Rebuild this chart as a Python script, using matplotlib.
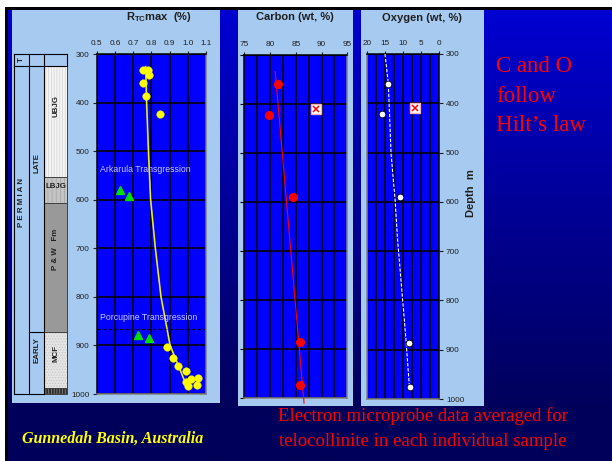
import numpy as np
import matplotlib
matplotlib.use('Agg')
import matplotlib.pyplot as plt
from matplotlib.patches import Rectangle

plt.rcParams['font.family'] = ['Liberation Sans', 'DejaVu Sans']
plt.rcParams['mathtext.fontset'] = 'custom'
plt.rcParams['mathtext.rm'] = 'Liberation Sans:bold'
plt.rcParams['mathtext.it'] = 'Liberation Sans:bold'
plt.rcParams['mathtext.bf'] = 'Liberation Sans:bold'
plt.rcParams['hatch.linewidth'] = 0.6

# ---------------- data ----------------
depth_ticks = [300, 400, 500, 600, 700, 800, 900, 1000]
rtc_ticks = [0.5, 0.6, 0.7, 0.8, 0.9, 1.0, 1.1]
carbon_ticks = [75, 80, 85, 90, 95]
carbon_grid = [77.5, 80, 82.5, 85, 87.5, 90, 92.5]
oxygen_ticks = [20, 15, 10, 5, 0]
oxygen_grid = [17.5, 15, 12.5, 10, 7.5, 5, 2.5]

rtc_depth = [332, 332, 343, 360, 387, 423, 904, 925, 943, 952, 975, 984, 970, 982, 967]
rtc_value = [0.756, 0.780, 0.787, 0.756, 0.771, 0.848, 0.887, 0.917, 0.948,
             0.988, 0.990, 1.000, 1.017, 1.049, 1.058]
tri_depth = [581, 592, 879, 885]
tri_value = [0.628, 0.679, 0.728, 0.788]
rtc_trend_depth = [326, 400, 500, 600, 700, 800, 900, 941, 983]
rtc_trend_value = [0.769, 0.774, 0.784, 0.796, 0.822, 0.853, 0.903, 0.948, 0.993]

carbon_depth = [360, 422, 590, 886, 975]
carbon_value = [81.6, 79.7, 84.4, 85.9, 85.8]
carbon_x_depth = [410]
carbon_x_value = [89.0]
carbon_trend_depth = [334, 1011]
carbon_trend_value = [81.0, 86.6]

oxygen_depth = [360, 422, 591, 887, 975]
oxygen_value = [14.07, 15.7, 10.75, 8.4, 8.0]
oxygen_x_depth = [409]
oxygen_x_value = [6.65]
oxygen_trend_depth = [300, 360, 501, 596, 677, 799, 880, 974]
oxygen_trend_value = [15.0, 14.07, 13.33, 12.2, 11.5, 10.1, 9.17, 8.24]

strat_units = ['UBJG', 'LBJG', 'P & W   Fm', 'MCF', '']
strat_top = [325, 554, 607, 872, 988]
strat_base = [554, 607, 872, 988, 1000]
period_top = 299
late_early_boundary = 872
porcupine_depth = 867

# ---------------- figure ----------------
W, H = 612, 461
fig = plt.figure(figsize=(W / 100, H / 100), dpi=100)


def px_axes(x0, y0, x1, y1, **kw):
    return fig.add_axes([x0 / W, 1 - y1 / H, (x1 - x0) / W, (y1 - y0) / H], **kw)


LIGHT = '#A6CAF0'
PLOT_BLUE = '#0000FF'
TICK_FS = 5.9

# background
bg = px_axes(0, 0, W, H)
bg.set_xlim(0, W)
bg.set_ylim(H, 0)
bg.axis('off')
top_c, bot_c = np.array([0, 0, 210]) / 255, np.array([0, 0, 90]) / 255
t = np.clip((np.linspace(0, H, 200) - 10) / 400, 0, 1)
grad = (top_c[None, :] * (1 - t[:, None]) + bot_c[None, :] * t[:, None])[:, None, :]
bg.imshow(grad, extent=(0, W, H, 0), aspect='auto', interpolation='bilinear')
bg.add_patch(Rectangle((0, 0), W, 7, color='white', lw=0))
bg.add_patch(Rectangle((0, 0), 5, H, color='white', lw=0))
bg.add_patch(Rectangle((5, 7), W, 3, color='black', lw=0))
bg.add_patch(Rectangle((5, 7), 3, H, color='black', lw=0))
for (x0, x1, y1) in [(12.3, 220, 403), (238, 353, 406), (361, 484, 406)]:
    bg.add_patch(Rectangle((x0, 10), x1 - x0, y1 - 10, color=LIGHT, lw=0))

# titles
bg.text(158.5, 17.5, r'R$_{\mathrm{TC}}$max  (%)', ha='center', va='center',
        fontsize=8, fontweight='bold', color='#202020')
bg.text(295, 17.5, 'Carbon (wt, %)', ha='center', va='center', fontsize=8,
        fontweight='bold', color='#202020')
bg.text(422, 18, 'Oxygen (wt, %)', ha='center', va='center', fontsize=8,
        fontweight='bold', color='#202020')
bg.text(471.5, 193, 'Depth  m', ha='center', va='center', rotation=90, fontsize=8,
        fontweight='bold', color='#202020')

# red / yellow annotations
for i, line in enumerate(['C and O', 'follow', 'Hilt\u2019s law']):
    bg.text(496, 67 + 29 * i, line, ha='left', va='center', fontsize=16.5,
            family='Liberation Serif', color='#FF0000')
bg.text(423, 416.5, 'Electron microprobe data averaged for', ha='center', va='center',
        fontsize=13.5, family='Liberation Serif', color='#FF0000')
bg.text(423, 441.5, 'telocollinite in each individual sample', ha='center', va='center',
        fontsize=13.5, family='Liberation Serif', color='#FF0000')
bg.text(21.5, 439, 'Gunnedah Basin, Australia', ha='left', va='center', fontsize=11.5,
        family='Liberation Serif', style='italic', fontweight='bold', color='#FFFF00')

GRID_LW = 1.15


def style_axes(ax, ticks_side, xgrid):
    ax.set_facecolor(PLOT_BLUE)
    ax.set_ylim(1000, 300)
    ax.set_yticks(depth_ticks)
    ax.xaxis.tick_top()
    ax.tick_params(axis='x', which='major', top=True, bottom=False, length=2.5, width=0.8,
                   pad=2.5, labelsize=TICK_FS, colors='#202020')
    ax.grid(False)
    for v in xgrid:
        ax.axvline(v, color='black', lw=GRID_LW, zorder=2)
    for d in depth_ticks:
        ax.axhline(d, color='black', lw=GRID_LW, zorder=2)
    for s in ['top', 'bottom', 'left', 'right']:
        ax.spines[s].set_color('#808080')
        ax.spines[s].set_linewidth(1.1)
        ax.spines[s].set_zorder(3)
    ax.spines['top'].set_color('black')
    ax.spines[ticks_side].set_color('black')


# ---------------- R_TC max panel ----------------
ax1 = px_axes(96.7, 54, 206, 394)
ax1.set_xlim(0.5, 1.1)
style_axes(ax1, 'left', rtc_ticks)
ax1.set_xticks(rtc_ticks)
ax1.set_xticklabels([f'{v:.1f}' for v in rtc_ticks])
ax1.tick_params(axis='y', left=True, right=False, length=3, width=0.8, pad=2,
                labelsize=TICK_FS, colors='#202020')
ax1.plot(rtc_trend_value, rtc_trend_depth, color='#A0A070', lw=1.3, zorder=3)
ax1.plot(rtc_trend_value, rtc_trend_depth, color='#FFFF00', lw=0.7, zorder=4)
ax1.plot(rtc_value, rtc_depth, 'o', color='#FFFF00', ms=5.5, mec='#E8E800', mew=0.3, zorder=5)
ax1.plot(tri_value, tri_depth, '^', color='#00E000', ms=6, mec='#00E000', zorder=5)
ax1.axhline(porcupine_depth, color='black', lw=0.8, ls=(0, (3, 2)), zorder=3)
ax1.text(0.517, 537, 'Arkarula Transgression', color='#C8C8FF', fontsize=6.3,
         ha='left', va='center', zorder=6)
ax1.text(0.517, 843.5, 'Porcupine Transgression', color='#C8C8FF', fontsize=6.3,
         ha='left', va='center', zorder=6)

# ---------------- Carbon panel ----------------
ax2 = px_axes(244.3, 55, 347.3, 397.7)
ax2.set_xlim(75, 95)
style_axes(ax2, 'left', carbon_grid)
ax2.set_xticks(carbon_ticks)
ax2.tick_params(axis='y', left=True, right=False, length=3, width=0.8, labelleft=False)
ax2.plot(carbon_trend_value, carbon_trend_depth, color='#FF0000', lw=0.8, zorder=4,
         clip_on=False)
ax2.plot(carbon_value, carbon_depth, 'o', color='#FF0000', ms=5.5, zorder=5)
ax2.plot(carbon_x_value, carbon_x_depth, 's', mfc='white', mec='#FFB0B0', ms=7, zorder=5)
ax2.plot(carbon_x_value, carbon_x_depth, 'x', color='#FF0000', ms=5, mew=1.1, zorder=6)

# ---------------- Oxygen panel ----------------
ax3 = px_axes(367, 54, 439, 399)
ax3.set_xlim(20, 0)
style_axes(ax3, 'right', oxygen_grid)
ax3.set_xticks(oxygen_ticks)
ax3.yaxis.tick_right()
ax3.tick_params(axis='y', left=False, right=True, length=3, width=0.8, pad=2,
                labelsize=TICK_FS, colors='#202020')
ax3.plot(oxygen_trend_value, oxygen_trend_depth, color='white', lw=0.8,
         ls=(0, (3, 1.5)), zorder=4)
ax3.plot(oxygen_value, oxygen_depth, 'o', mfc='white', mec='black', mew=0.6, ms=4.8, zorder=5)
ax3.plot(oxygen_x_value, oxygen_x_depth, 's', mfc='white', mec='#FFB0B0', ms=7, zorder=5)
ax3.plot(oxygen_x_value, oxygen_x_depth, 'x', color='#FF0000', ms=5, mew=1.1, zorder=6)

# ---------------- stratigraphic column ----------------
c0, c1, c2, c3 = 0, 15.3, 30.3, 52.7
axs = px_axes(14, 54, 66.7, 394)
axs.set_xlim(c0, c3)
axs.set_ylim(1000, 300)
axs.axis('off')

unit_face = ['#F4F4F4', '#C4C4C4', '#999999', '#E4E4E4', '#303030']
unit_hatch = ['||||||', '||||', None, '......', '||||||']
unit_hcol = ['#D8D8D8', '#A8A8A8', None, '#C8C8C8', '#808080']
for name, top, base, fc, hh, hc in zip(strat_units, strat_top, strat_base,
                                      unit_face, unit_hatch, unit_hcol):
    axs.add_patch(Rectangle((c2, top), c3 - c2, base - top, facecolor=fc, lw=0,
                            clip_on=False))
    if hh:
        axs.add_patch(Rectangle((c2, top), c3 - c2, base - top, fill=False, hatch=hh,
                                edgecolor=hc, lw=0, clip_on=False))
    axs.add_patch(Rectangle((c2, top), c3 - c2, base - top, fill=False,
                            edgecolor='#404040', lw=0.7, clip_on=False))

lk = dict(color='black', lw=0.8, clip_on=False)
axs.plot([c0, c3], [period_top, period_top], **lk)
axs.plot([c0, c3], [strat_top[0], strat_top[0]], **lk)
axs.plot([c0, c0], [period_top, 1000], **lk)
axs.plot([c1, c1], [period_top, 1000], **lk)
axs.plot([c2, c2], [period_top, 1000], **lk)
axs.plot([c3, c3], [period_top, strat_top[0]], **lk)
axs.plot([c0, c2], [1000, 1000], **lk)
axs.plot([c1, c2], [late_early_boundary, late_early_boundary], **lk)

tk = dict(fontsize=5.7, fontweight='bold', color='#202020', ha='center', va='center')
axs.text((c0 + c1) / 2, 312, 'T', rotation=90, **tk)
axs.text((c0 + c1) / 2, 605, 'P E R M I A N', rotation=90, **tk)
axs.text((c1 + c2) / 2, 525, 'LATE', rotation=90, **tk)
axs.text((c1 + c2) / 2, 910, 'EARLY', rotation=90, **tk)
axs.text((c2 + c3) / 2, 407, strat_units[0], rotation=90, **tk)
axs.text((c2 + c3) / 2, 573, strat_units[1], rotation=0, **tk)
axs.text((c2 + c3) / 2, 703, strat_units[2], rotation=90, **tk)
axs.text((c2 + c3) / 2, 916, strat_units[3], rotation=90, **tk)

fig.savefig('out.png', dpi=100)
